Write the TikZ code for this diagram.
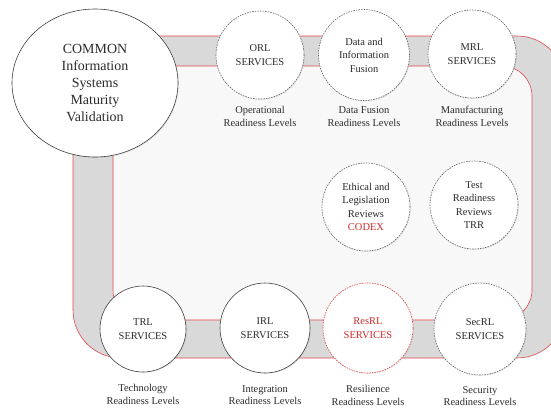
\documentclass[tikz,border=0pt]{standalone}
\usepackage{fontspec}
\setmainfont{Liberation Serif}
\usepackage{tikz}
\usetikzlibrary{positioning,shadows,shapes.geometric}
\definecolor{bandgray}{HTML}{D9D9D9}
\definecolor{innergray}{HTML}{F8F8F8}
\definecolor{edgered}{HTML}{E04848}
\definecolor{textred}{HTML}{D42A2A}
\definecolor{textgray}{HTML}{2B2B2B}
\tikzset{
  svc/.style={circle, draw=black!60, dash pattern=on 1.6bp off 1bp, line width=0.6bp,
    fill=white, minimum size=88bp, inner sep=0pt, align=center, text=textgray,
    font=\fontsize{10.5}{13.5}\selectfont,
    drop shadow={opacity=0.18, shadow xshift=0.8bp, shadow yshift=-0.8bp}},
  svcsolid/.style={svc, solid, draw=black!75},
  lvl/.style={align=center, inner sep=0pt, text=textgray, font=\fontsize{10.5}{12.5}\selectfont}
}
\begin{document}
\begin{tikzpicture}[x=1bp,y=-1bp]
\useasboundingbox (0,0) rectangle (551,408);
% band
\filldraw[fill=bandgray, draw=edgered, line width=0.6bp, rounded corners=48bp] (73,36) rectangle (565,358);
\filldraw[fill=innergray, draw=edgered, line width=0.6bp, rounded corners=30bp] (113,66) rectangle (532,320);

\node[ellipse, draw=black!75, line width=0.6bp, fill=white, minimum width=166bp, minimum height=148bp,
  align=center, text=textgray, font=\fontsize{14}{17}\selectfont,
  drop shadow={opacity=0.18, shadow xshift=0.8bp, shadow yshift=-0.8bp}]
  (common) at (95,83) {COMMON\\Information\\Systems\\Maturity\\Validation};

% top row
\node[svc] (orl) at (260,55) {ORL\\SERVICES};
\node[svc, minimum size=91bp] (dfrl) at (364,55) {Data and\\Information\\Fusion};
\node[svc] (mrl) at (472,54) {MRL\\SERVICES};
\node[lvl, below=7bp of orl] (orllab) {Operational\\Readiness Levels};
\node[lvl, below=6bp of dfrl] (dfrllab) {Data Fusion\\Readiness Levels};
\node[lvl, below=8bp of mrl] (mrllab) {Manufacturing\\Readiness Levels};

% middle
\node[svc] (codex) at (366,207) {Ethical and\\Legislation\\Reviews\\\textcolor{textred}{CODEX}};
\node[svc] (trr) at (474,205) {Test\\Readiness\\Reviews\\TRR};

% bottom row
\node[svcsolid, minimum size=86bp] (trl) at (143,329) {TRL\\SERVICES};
\node[svcsolid, minimum size=90bp] (irl) at (265,328) {IRL\\SERVICES};
\node[svc, draw=edgered, text=textred, minimum size=90bp] (resrl) at (368,328) {ResRL\\SERVICES};
\node[svc, minimum size=92bp] (secrl) at (480,329) {SecRL\\SERVICES};
\node[lvl, below=12bp of trl] (trllab) {Technology\\Readiness Levels};
\node[lvl, below=12bp of irl] (irllab) {Integration\\Readiness Levels};
\node[lvl, below=12bp of resrl] (resrllab) {Resilience\\Readiness Levels};
\node[lvl, below=11bp of secrl] (secrllab) {Security\\Readiness Levels};
\end{tikzpicture}
\end{document}
